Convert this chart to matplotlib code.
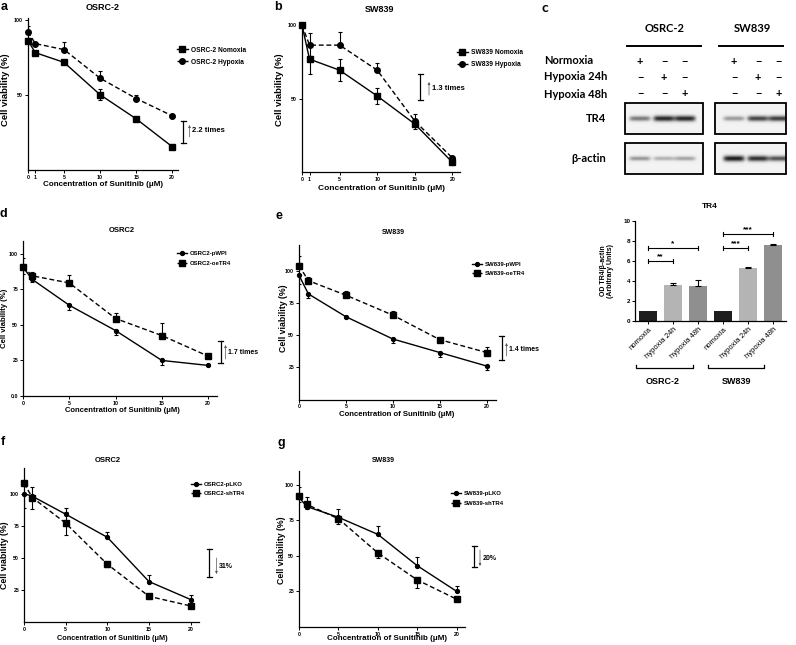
import numpy as np
import matplotlib
matplotlib.use('Agg')
import matplotlib.pyplot as plt

W, H = 796, 645

# a, b : parental cells, normoxia vs hypoxia
conc_ab = [0, 1, 5, 10, 15, 20]
a_norm = [86, 78, 71.5, 50, 34, 15.5]
a_norm_lo = [1.5, 1, 1, 3.5, 1.5, 1]
a_norm_hi = [1.5, 1, 1, 3.5, 1.5, 1]
a_hyp = [92, 84, 80, 61, 47.5, 36]
a_hyp_lo = [0, 0, 0, 0, 0, 0]
a_hyp_hi = [4, 1, 5, 4.5, 2.5, 1.5]

b_norm = [100, 77, 69.5, 52, 33, 7]
b_norm_lo = [0, 10, 7.5, 5.5, 3.5, 1.5]
b_norm_hi = [0, 10, 7.5, 5.5, 3.5, 1.5]
b_hyp = [100, 86.5, 86.5, 69.5, 35, 10]
b_hyp_lo = [0, 0, 0, 0, 0, 0]
b_hyp_hi = [0, 8, 9, 5, 4.5, 1]

# c : western blot (band darkness) + densitometry
blot_conditions = ['Normoxia', 'Hypoxia 24h', 'Hypoxia 48h']
blot_lines = ['OSRC-2', 'SW839']
tr4_osrc = [0.55, 0.92, 0.92]
tr4_sw = [0.4, 0.78, 0.82]
actin_osrc = [0.42, 0.3, 0.36]
actin_sw = [0.97, 0.88, 0.72]

bar_labels = ['nomoxia', 'hypoxia 24h', 'hypoxia 48h'] * 2
bar_vals = [1.0, 3.6, 3.5, 1.0, 5.3, 7.6]
bar_err = [0, 0.15, 0.55, 0, 0.07, 0.05]
bar_colors = ['#1e1e1e', '#b4b4b4', '#8f8f8f'] * 2
sig_pairs = [(0, 1, 6.0, '**'), (0, 2, 7.3, '*'), (3, 4, 7.3, '***'), (3, 5, 8.7, '***')]

# d-g : TR4 overexpression / knockdown
conc = [0, 1, 5, 10, 15, 20]
d_pwpi = [90.5, 82, 63.8, 46, 25, 21.5]
d_pwpi_lo = [5, 2, 3, 3, 3, 0.5]
d_pwpi_hi = [0, 0, 0, 0, 0, 0]
d_oe = [91, 84.5, 79.5, 54.5, 42.5, 28]
d_oe_lo = [0, 0, 0, 0, 0, 0]
d_oe_hi = [6, 3, 5.5, 4, 8.5, 1.5]

e_pwpi = [96.5, 82, 64.3, 47, 36.5, 26]
e_pwpi_lo = [7, 3, 1, 3, 3.5, 3]
e_pwpi_hi = [0, 0, 0, 0, 0, 0]
e_oe = [104, 92.3, 81, 65.5, 46.5, 36.5]
e_oe_lo = [0, 0, 0, 0, 0, 0]
e_oe_hi = [7.5, 3, 3, 3, 1, 4.5]

f_plko = [100, 98, 84, 66, 31.5, 17.5]
f_plko_lo = [11, 0, 0, 0, 0, 0]
f_plko_hi = [0, 7, 5, 4, 5, 3.5]
f_sh = [108, 97, 77, 45, 20, 12.5]
f_sh_lo = [0, 9, 9, 2, 1.5, 1]
f_sh_hi = [0, 0, 9, 0, 0, 0]

g_plko = [91, 84.5, 77, 65, 43, 25]
g_plko_lo = [0, 0, 0, 0, 0, 0]
g_plko_hi = [7, 6.5, 6, 6, 6, 3.5]
g_sh = [92, 86, 76, 52, 33, 19.5]
g_sh_lo = [4, 3, 3.5, 3.5, 5.5, 1]
g_sh_hi = [0, 0, 0, 0, 0, 0]

plt.rcParams['font.family'] = ['Liberation Sans', 'DejaVu Sans']
plt.rcParams['font.weight'] = 'bold'
BLOT_FONT = ['Lato', 'DejaVu Sans']

fig = plt.figure(figsize=(W / 100, H / 100), dpi=100)

# overlay in pixel coords (y down) for labels / annotations / blot, drawn on top
ov = fig.add_axes([0, 0, 1, 1])
ov.set_xlim(0, W)
ov.set_ylim(H, 0)
ov.axis('off')
ov.set_zorder(10)


def px_axes(x0, y0, x1, y1):
    ax = fig.add_axes([x0 / W, 1 - y1 / H, (x1 - x0) / W, (y1 - y0) / H])
    ax.patch.set_visible(False)
    return ax


def err_side(ax, x, v, e, sign):
    x, v, e = map(np.asarray, (x, v, e))
    m = e > 0
    ends = v + sign * e
    ax.vlines(x[m], v[m], ends[m], color='k', lw=0.8, zorder=2)
    ax.plot(x[m], ends[m], ls='none', marker='_', ms=3.5, mew=0.8, color='k', zorder=2)


def viability(box, x, series, xticks, yticks, yticklabels, xlim, ylim, leg_xy, legfs):
    ax = px_axes(*box)
    for vals, lo, hi, mk, ms, ls, lab in series:
        err_side(ax, x, vals, lo, -1)
        err_side(ax, x, vals, hi, 1)
        ax.plot(x, vals, color='k', marker=mk, ms=ms, ls=ls, lw=1.0,
                label=lab, clip_on=False, zorder=3)
    ax.set_xlim(*xlim)
    ax.set_ylim(*ylim)
    ax.set_xticks(xticks)
    ax.set_yticks(yticks)
    ax.set_yticklabels(yticklabels)
    for s in ['top', 'right']:
        ax.spines[s].set_visible(False)
    for s in ['left', 'bottom']:
        ax.spines[s].set_linewidth(0.9)
    ax.tick_params(length=2, width=0.7, labelsize=3.8, pad=1.5)
    ax.legend(loc='center left', bbox_to_anchor=(leg_xy[0] / W, 1 - leg_xy[1] / H),
              bbox_transform=fig.transFigure, frameon=False, fontsize=legfs,
              handlelength=1.6, handletextpad=0.5, labelspacing=0.75,
              borderpad=0, borderaxespad=0)
    return ax


def fold_bar(x, y0, y1, ax_x, a0, a1, txt, fs=5.5):
    ov.plot([x, x], [y0, y1], color='k', lw=0.9)
    ov.plot([x - 2.5, x + 2.5], [y0, y0], color='k', lw=0.9)
    ov.plot([x - 2.5, x + 2.5], [y1, y1], color='k', lw=0.9)
    ov.annotate('', xy=(ax_x, a1), xytext=(ax_x, a0),
                arrowprops=dict(arrowstyle='-|>', lw=0.5, color='#555555', mutation_scale=3.5,
                                shrinkA=0, shrinkB=0))
    ov.text(ax_x + 2.5, (a0 + a1) / 2, txt, fontsize=fs, va='center', ha='left')


def labels(letter, lxy, title, txy, tfs, xl_xy, xfs, yl_xy, yfs):
    ov.text(lxy[0], lxy[1], letter, fontsize=9, va='top', ha='left')
    ov.text(txy[0], txy[1], title, fontsize=tfs, va='center', ha='center')
    ov.text(xl_xy[0], xl_xy[1], 'Concentration of Sunitinib (μM)', fontsize=xfs,
            va='center', ha='center')
    ov.text(yl_xy[0], yl_xy[1], 'Cell viability (%)', fontsize=yfs, va='center',
            ha='center', rotation=90)


sq, ci = 's', 'o'

# ---- a
viability((28, 18, 178, 170), conc_ab,
          [(a_norm, a_norm_lo, a_norm_hi, sq, 3.8, '-', 'OSRC-2 Nomoxia'),
           (a_hyp, a_hyp_lo, a_hyp_hi, ci, 4.0, (0, (3.5, 2)), 'OSRC-2 Hypoxia')],
          conc_ab, [50, 100], ['50', '100'], (0, 20.8), (0, 101), (177, 56), 4.8)
labels('a', (1, 1), 'OSRC-2', (103, 8), 6.5, (103, 185), 5.8, (6, 90), 6.8)
fold_bar(183, 121, 143, 189.5, 137, 125, '2.2 times')

# ---- b
viability((302, 23, 460, 172), conc_ab,
          [(b_norm, b_norm_lo, b_norm_hi, sq, 3.8, '-', 'SW839 Nomoxia'),
           (b_hyp, b_hyp_lo, b_hyp_hi, ci, 4.0, (0, (3.5, 2)), 'SW839 Hypoxia')],
          conc_ab, [50, 100], ['50', '100'], (0, 21), (0.5, 101.5), (457, 59), 4.8)
labels('b', (274, 1), 'SW839', (380, 9), 6.5, (382, 188), 6.0, (280, 90), 6.8)
fold_bar(420, 74, 100, 429, 95, 82, '1.3 times')

# ---- c : blot
ov.text(542, 2, 'c', fontsize=10, va='top', ha='left', family=BLOT_FONT)
lanes = [[640, 664, 685], [734, 758, 779]]
blot_x = [(625, 703), (715, 786)]
head_x = [665, 752]
line_x = [(627, 701), (719, 783)]
row_y = [61, 77, 94]
for k, name in enumerate(blot_lines):
    ov.text(head_x[k], 29, name, fontsize=8, ha='center', va='center', family=BLOT_FONT)
    ov.plot(line_x[k], [46, 46], color='k', lw=1.4)
    for r, yy in enumerate(row_y):
        for j, lx in enumerate(lanes[k]):
            ov.text(lx, yy, '+' if j == r else '−', fontsize=8, ha='center', va='center',
                    family=BLOT_FONT)
for r, cond in enumerate(blot_conditions):
    ov.text(544, row_y[r], cond, fontsize=8, ha='left', va='center', family=BLOT_FONT)
ov.text(606, 118, 'TR4', fontsize=8, ha='right', va='center', family=BLOT_FONT)
ov.text(606, 159, 'β-actin', fontsize=8, ha='right', va='center', family=BLOT_FONT)


def blot(x0, x1, y0, y1, centers, dark, half_h):
    xs = np.arange(x0, x1, 0.5) + 0.25
    ys = np.arange(y0, y1, 0.5) + 0.25
    X, Y = np.meshgrid(xs, ys)
    yc = (y0 + y1) / 2
    img = np.full(X.shape, 0.95)
    for d, c in zip(dark, centers):
        img -= 0.88 * d * np.exp(-((X - c) / 10.5) ** 6) * np.exp(-((Y - yc) / (half_h * (0.8 + 0.4 * d))) ** 2)
    ov.imshow(np.clip(img, 0, 1), cmap='gray', vmin=0, vmax=1, extent=(x0, x1, y1, y0),
              aspect='auto', interpolation='bilinear', zorder=1)
    ov.add_patch(plt.Rectangle((x0, y0), x1 - x0, y1 - y0, fill=False, ec='k', lw=1.3, zorder=2))


blot(*blot_x[0], 103, 134, lanes[0], tr4_osrc, 2.4)
blot(*blot_x[1], 103, 134, lanes[1], tr4_sw, 2.4)
blot(*blot_x[0], 143, 174, lanes[0], actin_osrc, 2.2)
blot(*blot_x[1], 143, 174, lanes[1], actin_sw, 2.4)
ov.set_xlim(0, W)
ov.set_ylim(H, 0)

# ---- c : densitometry
bx = px_axes(635, 221, 786, 321)
pos = np.arange(len(bar_vals))
bx.bar(pos, bar_vals, width=0.72, color=bar_colors, edgecolor='none')
be = np.asarray(bar_err)
m = be > 0
bx.errorbar(pos[m], np.asarray(bar_vals)[m], yerr=[np.zeros(m.sum()), be[m]], fmt='none',
            ecolor='k', elinewidth=0.8, capsize=2.5, capthick=0.8)
for i, j, yy, star in sig_pairs:
    bx.plot([i, j], [yy, yy], color='k', lw=0.8)
    bx.plot([i, i], [yy - 0.18, yy + 0.18], color='k', lw=0.8)
    bx.plot([j, j], [yy - 0.18, yy + 0.18], color='k', lw=0.8)
    bx.text((i + j) / 2, yy + 0.08, star, fontsize=6, ha='center', va='bottom')
bx.set_xlim(-0.52, 5.52)
bx.set_ylim(0, 10)
bx.set_yticks(range(0, 11, 2))
bx.set_xticks(pos)
bx.set_xticklabels(bar_labels, rotation=45, ha='right', va='top', rotation_mode='anchor',
                   fontsize=5.5, fontweight='normal')
for s in ['top', 'right']:
    bx.spines[s].set_visible(False)
for s in ['left', 'bottom']:
    bx.spines[s].set_linewidth(0.9)
bx.tick_params(length=2, width=0.7, labelsize=4.5, pad=1.5)
bx.tick_params(axis='x', labelsize=5.5)
ov.text(710, 207, 'TR4', fontsize=6, ha='center', va='center')
ov.text(607, 271, 'OD TR4/β-actin\n(Arbitrary Units)', fontsize=5, ha='center',
        va='center', rotation=90, linespacing=1.1)
for (g0, g1), name, cx in [((636, 693), 'OSRC-2', 663), ((708, 764), 'SW839', 737)]:
    ov.plot([g0, g0, g1, g1], [365, 368, 368, 365], color='k', lw=0.9)
    ov.text(cx, 382, name, fontsize=6.5, ha='center', va='center')

# ---- d
viability((23, 241, 217, 396), conc,
          [(d_pwpi, d_pwpi_lo, d_pwpi_hi, ci, 2.8, '-', 'OSRC2-pWPI'),
           (d_oe, d_oe_lo, d_oe_hi, sq, 4.2, (0, (3.5, 2)), 'OSRC2-oeTR4')],
          [0, 5, 10, 15, 20], [0, 25, 50, 75, 100], ['0.0', '25', '50', '75', '100'],
          (0, 20.95), (0, 109), (177, 258.5), 4.3)
labels('d', (0, 208), 'OSRC2', (122, 230), 5.5, (122, 410), 5.5, (5, 318), 5.6)
fold_bar(220.7, 341, 363, 225.5, 359, 345, '1.7 times', 5)

# ---- e
viability((299, 245, 496, 399.5), conc,
          [(e_pwpi, e_pwpi_lo, e_pwpi_hi, ci, 2.8, '-', 'SW839-pWPI'),
           (e_oe, e_oe_lo, e_oe_hi, sq, 4.2, (0, (3.5, 2)), 'SW839-oeTR4')],
          [0, 5, 10, 15, 20], [25, 50, 75, 100], ['25', '50', '75', '100'],
          (0, 21), (0, 120), (472, 269), 4.3)
labels('e', (276, 210), 'SW839', (393, 233), 5, (397, 415), 5.6, (283, 318), 6.3)
fold_bar(501.7, 336, 360, 506.5, 356, 343, '1.4 times', 5)

# ---- f
viability((24, 468, 199, 622), conc,
          [(f_plko, f_plko_lo, f_plko_hi, ci, 2.8, '-', 'OSRC2-pLKO'),
           (f_sh, f_sh_lo, f_sh_hi, sq, 4.4, (0, (3.5, 2)), 'OSRC2-shTR4')],
          [0, 5, 10, 15, 20], [25, 50, 75, 100], ['25', '50', '75', '100'],
          (0, 21), (0, 120), (191, 489), 4.3)
labels('f', (1, 436), 'OSRC2', (108, 460), 5.5, (112, 638), 5.3, (5, 555), 6.3)
fold_bar(209, 549, 577, 216.5, 558, 574, '31%', 5)

# ---- g
viability((299, 471, 465, 627), conc,
          [(g_plko, g_plko_lo, g_plko_hi, ci, 2.8, '-', 'SW839-pLKO'),
           (g_sh, g_sh_lo, g_sh_hi, sq, 4.4, (0, (3.5, 2)), 'SW839-shTR4')],
          [0, 5, 10, 15, 20], [25, 50, 75, 100], ['25', '50', '75', '100'],
          (0, 21.05), (0, 109.5), (451, 498.5), 4.3)
labels('g', (277, 437), 'SW839', (383, 461), 5, (387, 639), 5.8, (282, 550), 6.3)
fold_bar(474, 545.7, 567.3, 480, 550, 566, '20%', 5)

fig.savefig('out.png', dpi=100)
